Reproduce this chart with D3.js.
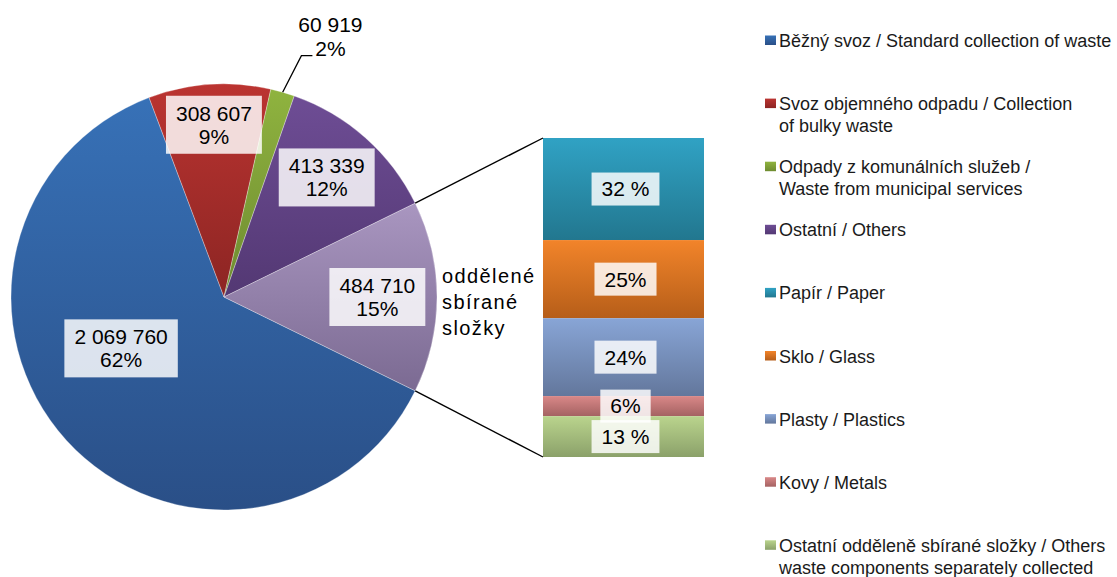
<!DOCTYPE html>
<html><head><meta charset="utf-8">
<script src="https://cdn.jsdelivr.net/npm/d3@7"></script>
<style>
html,body{margin:0;padding:0;background:#fff;}
svg{display:block;font-family:"Liberation Sans",Arial,sans-serif;}
</style></head>
<body>
<svg id="chart" width="1117" height="577"></svg>
<script>
// ---- data ----
const pieCategories = ["Běžný svoz / Standard collection of waste",
  "Svoz objemného odpadu / Collection\nof bulky waste",
  "Odpady z komunálních služeb /\nWaste from municipal services",
  "Ostatní / Others",
  "oddělené sbírané složky"];
const pieValues = [2069760, 308607, 60919, 413339, 484710];
const pieColorsTop = ["#3771b7", "#bb3431", "#8fb33f", "#6e4d95", "#a996c0"];
const pieColorsBottom = ["#2a4f87", "#8c2523", "#6e8b30", "#533873", "#7b6a92"];

const barCategories = ["Papír / Paper", "Sklo / Glass", "Plasty / Plastics", "Kovy / Metals",
  "Ostatní odděleně sbírané složky / Others\nwaste components separately collected"];
const barValues = [32, 24.5, 24.4, 6.3, 12.8];
const barLabels = ["32 %", "25%", "24%", "6%", "13 %"];
const barColorsTop = ["#30a2c4", "#f2842a", "#88a5d6", "#d98888", "#bad48d"];
const barColorsBottom = ["#22778f", "#b65e19", "#63779c", "#a46262", "#8ba16a"];

const splitLabel = ["oddělené", "sbírané", "složky"];

// ---- setup ----
const svg = d3.select("#chart");
const defs = svg.append("defs");
function grad(id, c1, c2) {
  const g = defs.append("linearGradient").attr("id", id)
    .attr("x1", 0).attr("y1", 0).attr("x2", 0).attr("y2", 1);
  g.append("stop").attr("offset", "0%").attr("stop-color", c1);
  g.append("stop").attr("offset", "100%").attr("stop-color", c2);
  return `url(#${id})`;
}
const pieFill = pieValues.map((d, i) => grad("pg" + i, pieColorsTop[i], pieColorsBottom[i]));
const barFill = barValues.map((d, i) => grad("bg" + i, barColorsTop[i], barColorsBottom[i]));

const fmtLocale = d3.formatLocale({decimal: ",", thousands: " ", grouping: [3], currency: ["", ""]});
const fmt = fmtLocale.format(",d");

// ---- pie ----
const cx = 224, cy = 297, R = 213;
const total = d3.sum(pieValues);
const last = pieValues[pieValues.length - 1];
const offset = Math.PI / 2 - (total - last / 2) / total * 2 * Math.PI;
const pie = d3.pie().sort(null).startAngle(offset).endAngle(offset + 2 * Math.PI);
const arcs = pie(pieValues);
const arc = d3.arc().innerRadius(0).outerRadius(R);
const g = svg.append("g").attr("transform", `translate(${cx},${cy})`);
g.selectAll("path.slice").data(arcs).join("path").attr("class", "slice")
  .attr("d", arc).attr("fill", (d, i) => pieFill[i])
  .attr("stroke", "rgba(255,255,255,0.5)").attr("stroke-width", 0.6);

// label placement (radius fraction, angle shift in degrees)
const labelR = [0.54, 0.81, 0, 0.74, 0.72];
const labelShift = [15.7, 0.6, 0, -0.9, 0];
function pctLabel(v) { return Math.round(v / total * 100) + "%"; }

function boxedLabel(parent, x, y, lines, fontSize, lineH, padX, padY, fill) {
  const lg = parent.append("g");
  const rect = lg.append("rect").attr("fill", fill);
  const t = lg.append("text").attr("text-anchor", "middle").attr("font-size", fontSize)
    .attr("fill", "#000");
  const n = lines.length;
  lines.forEach((l, k) => {
    t.append("tspan").attr("x", x).attr("y", y + (k - (n - 1) / 2) * lineH + fontSize * 0.35).text(l);
  });
  const bb = t.node().getBBox();
  const h = n * lineH + 2 * padY;
  rect.attr("x", bb.x - padX).attr("y", y - h / 2).attr("width", bb.width + 2 * padX).attr("height", h);
  return lg;
}

arcs.forEach((d, i) => {
  const lines = [fmt(d.data), pctLabel(d.data)];
  if (i === 2) {
    // outside label with leader
    const mid = (d.startAngle + d.endAngle) / 2;
    const p0 = [Math.sin(mid) * R, -Math.cos(mid) * R];
    const ka = mid + 1.8 * Math.PI / 180;
    const p1 = [Math.sin(ka) * R * 1.19, -Math.cos(ka) * R * 1.19];
    const p2 = [p1[0] + 11, p1[1]];
    g.append("path").attr("d", d3.line()([p0, p1, p2])).attr("fill", "none")
      .attr("stroke", "#000").attr("stroke-width", 1.3);
    const t = g.append("text").attr("text-anchor", "middle").attr("font-size", 21);
    t.append("tspan").attr("x", p2[0] + 18).attr("y", p2[1] - 24).text(lines[0]);
    t.append("tspan").attr("x", p2[0] + 18).attr("y", p2[1]).text(lines[1]);
    return;
  }
  const a = (d.startAngle + d.endAngle) / 2 + labelShift[i] * Math.PI / 180;
  const x = Math.sin(a) * R * labelR[i], y = -Math.cos(a) * R * labelR[i];
  boxedLabel(g, x, y, lines, 21, 23, 10, 6, "rgba(255,255,255,0.83)");
});

// ---- bar ----
const barX0 = 543, barX1 = 704;
const y = d3.scaleLinear().domain([0, d3.sum(barValues)]).range([457, 138]);
const stackOrder = barValues.map((v, i) => i).reverse();
let acc = 0;
const segs = [];
stackOrder.forEach(i => { segs[i] = [acc, acc + barValues[i]]; acc += barValues[i]; });
const bg = svg.append("g");
bg.selectAll("rect").data(barValues).join("rect")
  .attr("x", barX0).attr("width", barX1 - barX0)
  .attr("y", (d, i) => y(segs[i][1])).attr("height", (d, i) => y(segs[i][0]) - y(segs[i][1]))
  .attr("fill", (d, i) => barFill[i]);
barValues.forEach((v, i) => {
  const yc = (y(segs[i][0]) + y(segs[i][1])) / 2;
  boxedLabel(bg, (barX0 + barX1) / 2 + 2, yc, [barLabels[i]], 21, 21, 10, 6, "rgba(255,255,255,0.83)");
});

// connector lines
const lp = arcs[arcs.length - 1];
const topPt = [cx + Math.sin(lp.startAngle) * R, cy - Math.cos(lp.startAngle) * R];
const botPt = [cx + Math.sin(lp.endAngle) * R, cy - Math.cos(lp.endAngle) * R];
svg.append("line").attr("x1", topPt[0]).attr("y1", topPt[1]).attr("x2", barX0).attr("y2", y(d3.sum(barValues)))
  .attr("stroke", "#000").attr("stroke-width", 1.4);
svg.append("line").attr("x1", botPt[0]).attr("y1", botPt[1]).attr("x2", barX0).attr("y2", y(0))
  .attr("stroke", "#000").attr("stroke-width", 1.4);

// split label
const st = svg.append("text").attr("font-size", 20).attr("letter-spacing", 1.4);
splitLabel.forEach((l, k) => st.append("tspan").attr("x", 442).attr("y", 283 + k * 26).text(l));

// ---- legend ----
const legendItems = pieCategories.slice(0, 4).map((c, i) => ({c, fill: pieFill[i]}))
  .concat(barCategories.map((c, i) => ({c, fill: barFill[i]})));
const lg = svg.append("g");
legendItems.forEach((it, i) => {
  const by = 47 + i * 63.1;
  lg.append("rect").attr("x", 765).attr("y", by - 11.5).attr("width", 11).attr("height", 9.5).attr("fill", it.fill);
  const t = lg.append("text").attr("font-size", 18).attr("fill", "#1a1a1a");
  it.c.split("\n").forEach((l, k) => t.append("tspan").attr("x", 779).attr("y", by + k * 21.7).text(l));
});
</script>
</body></html>
